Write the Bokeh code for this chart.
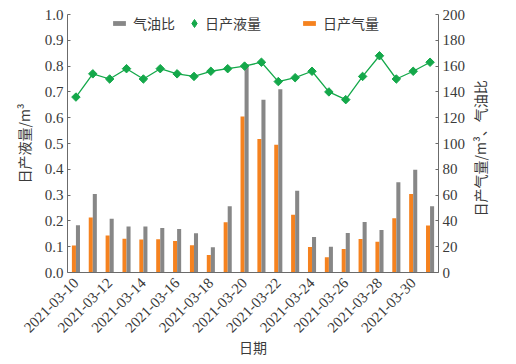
import numpy as np
from bokeh.plotting import figure
from bokeh.models import (Range1d, LinearAxis, Legend, LegendItem,
                          FixedTicker, PrintfTickFormatter, ColumnDataSource)
from bokeh.transform import dodge
from bokeh.embed import file_html
from bokeh.resources import INLINE

dates = ["2021-03-10", "2021-03-11", "2021-03-12", "2021-03-13", "2021-03-14",
         "2021-03-15", "2021-03-16", "2021-03-17", "2021-03-18", "2021-03-19",
         "2021-03-20", "2021-03-21", "2021-03-22", "2021-03-23", "2021-03-24",
         "2021-03-25", "2021-03-26", "2021-03-27", "2021-03-28", "2021-03-29",
         "2021-03-30", "2021-03-31"]
liquid = [0.68, 0.77, 0.75, 0.79, 0.75, 0.79, 0.77, 0.76, 0.78, 0.79, 0.80,
          0.815, 0.74, 0.755, 0.78, 0.70, 0.67, 0.76, 0.84, 0.75, 0.78, 0.815]
gas = [21, 42.6, 28.6, 26.2, 25.5, 25.7, 24.4, 21.2, 13.5, 39, 121,
       103.5, 99, 44.7, 19.8, 11.9, 18.2, 26, 23.9, 42, 60.8, 36.4]
gor = [36.6, 60.8, 41.6, 35.6, 35.6, 34.5, 33.8, 30.5, 19.5, 51.4, 161.5,
       134, 142, 63.4, 27.5, 20, 30.6, 39.2, 33, 69.9, 79.7, 51.4]
left_ticks = [i / 10 for i in range(11)]
right_ticks = list(range(0, 201, 20))

ORANGE = "#F5821F"
GRAY = "#878787"
GREEN = "#14A84A"
AXIS = "#6b6b6b"
TXT = "#3a3a3a"
SERIF = "Liberation Serif"
CJK = "Noto Sans CJK SC"

idx = list(range(len(dates)))
src = ColumnDataSource(dict(i=idx, date=dates, liquid=liquid, gas=gas, gor=gor))

p = figure(x_range=Range1d(-0.5, len(dates) - 0.5), y_range=Range1d(0, 1),
           width=516, height=364, output_backend="svg", toolbar_location=None,
           min_border_left=67, min_border_right=78, min_border_top=14,
           min_border_bottom=92)
p.extra_y_ranges = {"right": Range1d(0, 200)}
p.outline_line_color = None
p.xgrid.visible = False
p.ygrid.visible = False

ob = p.vbar(x=dodge("i", -0.12), top="gas", width=0.24,
            source=src, y_range_name="right", fill_color=ORANGE, line_color=None)
gb = p.vbar(x=dodge("i", 0.12), top="gor", width=0.24,
            source=src, y_range_name="right", fill_color=GRAY, line_color=None)
p.line("i", "liquid", source=src, line_color=GREEN, line_width=1.3)
p.scatter("i", "liquid", source=src, marker="square", angle=np.pi / 4,
          size=6, fill_color=GREEN, line_color=GREEN)
# hidden diamond renderer, used only for the legend entry
dm = p.scatter("i", "liquid", source=src, marker="diamond",
               fill_color=GREEN, line_color=GREEN)
dm.visible = False

ra = LinearAxis(y_range_name="right", ticker=FixedTicker(ticks=right_ticks))
p.add_layout(ra, "right")

yl = p.yaxis[0]
yl.ticker = FixedTicker(ticks=left_ticks)
yl.formatter = PrintfTickFormatter(format="%.1f")
yl.axis_label = "日产液量/m³"

right_label = "日产气量/m³、气油比"
props = ra.properties()
if "axis_label_orientation" in props and "axis_label_align" in props:
    ra.axis_label = "\u3000" * 4 + right_label
    ra.axis_label_orientation = np.pi / 2
    ra.axis_label_align = "start"
else:
    ra.axis_label = right_label

for ax in (yl, ra):
    ax.axis_line_color = AXIS
    ax.major_tick_line_color = AXIS
    ax.major_tick_in = 3
    ax.major_tick_out = 0
    ax.minor_tick_line_color = None
    ax.major_label_text_font = SERIF
    ax.major_label_text_font_size = "15px"
    ax.major_label_text_color = TXT
    ax.major_label_standoff = 4
    ax.axis_label_text_font = CJK
    ax.axis_label_text_font_size = "14px"
    ax.axis_label_text_font_style = "normal"
    ax.axis_label_text_color = TXT
yl.axis_label_standoff = 8
ra.axis_label_standoff = 12

xa = p.xaxis[0]
xa.ticker = FixedTicker(ticks=idx[::2])
xa.major_label_overrides = {i: dates[i] for i in idx[::2]}
xa.axis_line_color = AXIS
xa.major_tick_line_color = None
xa.minor_tick_line_color = None
xa.major_label_orientation = np.pi / 4
xa.major_label_text_font = SERIF
xa.major_label_text_font_size = "15px"
xa.major_label_text_color = TXT
xa.major_label_standoff = 2
xa.axis_label = "日期"
xa.axis_label_text_font = CJK
xa.axis_label_text_font_size = "14px"
xa.axis_label_text_font_style = "normal"
xa.axis_label_text_color = TXT
xa.axis_label_standoff = -3


def make_legend(label, rend, x, y, gw, gh, standoff=6):
    lg = Legend(items=[LegendItem(label=label, renderers=[rend])],
                location=(x, y), orientation="horizontal",
                glyph_width=gw, glyph_height=gh, label_height=20,
                padding=0, margin=0, label_standoff=standoff,
                background_fill_alpha=0, border_line_color=None,
                inactive_fill_alpha=0, click_policy="none",
                label_text_font=CJK, label_text_font_size="14px",
                label_text_color=TXT)
    p.add_layout(lg)


make_legend("气油比", gb, 44, 239, 16, 6)
make_legend("日产液量", dm, 117, 239, 20, 20, standoff=1)
make_legend("日产气量", ob, 234, 239, 16, 6)

open("out.html", "w").write(file_html(p, INLINE))
